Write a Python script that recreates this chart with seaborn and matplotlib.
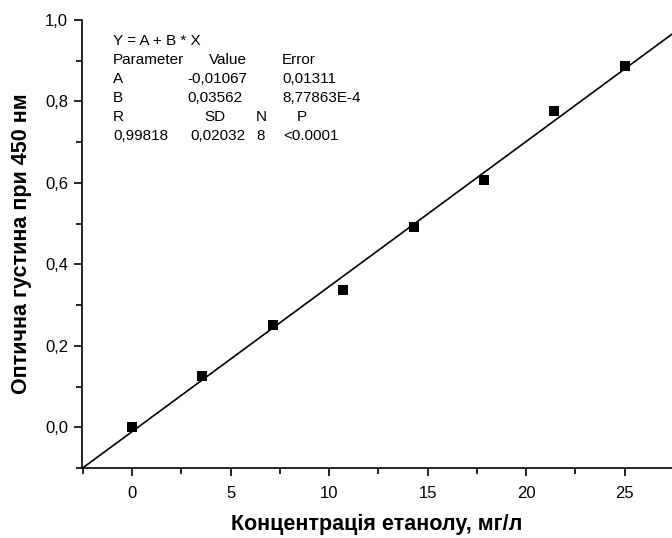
import matplotlib
matplotlib.use("Agg")
import matplotlib.pyplot as plt
import seaborn as sns
import numpy as np
import pandas as pd
from matplotlib.ticker import MultipleLocator, FuncFormatter

# Data
conc = [0.0, 3.57, 7.14, 10.71, 14.29, 17.86, 21.43, 25.0]
density = [0.000, 0.125, 0.252, 0.337, 0.491, 0.607, 0.776, 0.887]
fit_A = -0.01067
fit_B = 0.03562
x_label = "Концентрація етанолу, мг/л"
y_label = "Оптична густина при 450 нм"
stats_lines = [
    ["Y = A + B * X"],
    ["Parameter", "Value", "Error"],
    ["A", "-0,01067", "0,01311"],
    ["B", "0,03562", "8,77863E-4"],
    ["R", "SD", "N", "P"],
    ["0,99818", "0,02032", "8", "<0.0001"],
]

sns.set_theme(style="ticks")
plt.rcParams["font.family"] = ["Liberation Sans", "DejaVu Sans"]
plt.rcParams["text.color"] = "black"
plt.rcParams["axes.labelcolor"] = "black"
plt.rcParams["xtick.color"] = "black"
plt.rcParams["ytick.color"] = "black"
plt.rcParams["axes.edgecolor"] = "black"

W, H = 672, 538
fig = plt.figure(figsize=(W / 100, H / 100), dpi=100)
xmin, xmax = -2.54, 27.4
ymin, ymax = -0.1, 1.0
left, right, top, bottom = 82, 672, 20, 468
ax = fig.add_axes([left / W, 1 - bottom / H, (right - left) / W, (bottom - top) / H])

df = pd.DataFrame({"x": conc, "y": density})
fit_x = [xmin, xmax]
fit_df = pd.DataFrame({"x": fit_x, "y": [fit_A + fit_B * v for v in fit_x]})
sns.lineplot(data=fit_df, x="x", y="y", ax=ax, color="black", linewidth=1.2)
sns.scatterplot(data=df, x="x", y="y", ax=ax, marker="s", s=55, color="black",
                edgecolor="black", linewidth=0, zorder=3)

ax.set_xlim(xmin, xmax)
ax.set_ylim(ymin, ymax)
ax.xaxis.set_major_locator(MultipleLocator(5))
ax.xaxis.set_minor_locator(MultipleLocator(2.5))
ax.yaxis.set_major_locator(MultipleLocator(0.2))
ax.yaxis.set_minor_locator(MultipleLocator(0.1))
ax.yaxis.set_major_formatter(FuncFormatter(lambda v, p: f"{v:.1f}".replace(".", ",").replace("-0,0", "0,0")))
ax.xaxis.set_major_formatter(FuncFormatter(lambda v, p: f"{v:g}"))

for s in ["top", "right"]:
    ax.spines[s].set_visible(False)
for s in ["left", "bottom"]:
    ax.spines[s].set_linewidth(1.2)
    ax.spines[s].set_color("black")
ax.tick_params(which="major", direction="out", length=6, width=1.2, labelsize=12,
               colors="black", labelcolor="black", pad=4)
ax.tick_params(which="minor", direction="out", length=4, width=1.2, colors="black")
ax.tick_params(axis="x", pad=7)

ax.set_xlabel(x_label, fontsize=15.5, fontweight="bold", labelpad=9, color="black")
ax.set_ylabel(y_label, fontsize=15.5, fontweight="bold", labelpad=9, color="black")
ax.grid(False)

# Stats table text
col_x = {
    0: [113],
    1: [113, 209, 282],
    2: [113, 187, 282],
    3: [113, 187, 282],
    4: [113, 204, 256, 297],
    5: [113, 190, 256, 283],
}
row_y = [41, 60, 79, 98, 117, 136]
for i, row in enumerate(stats_lines):
    for j, txt in enumerate(row):
        fig.text(col_x[i][j] / W, 1 - row_y[i] / H, txt, fontsize=11,
                 ha="left", va="center", color="black")

fig.savefig("out.png", dpi=100)
